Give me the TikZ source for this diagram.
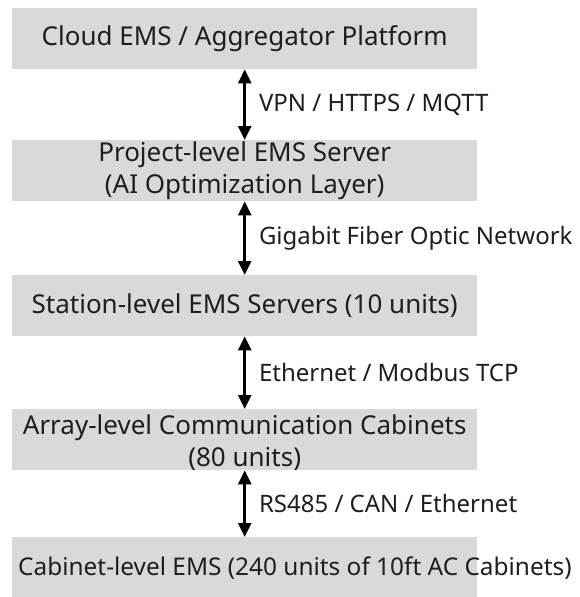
\documentclass[tikz,border=0pt]{standalone}
\usepackage{fontspec}
\setmainfont{Noto Sans}
\usepackage{xcolor}
\usepackage{tikz}
\usetikzlibrary{arrows.meta,calc,positioning}
\definecolor{levelfill}{RGB}{217,217,217}
\definecolor{levelink}{RGB}{30,30,30}
\tikzset{
  levelbox/.style={fill=levelfill,anchor=north west,inner sep=0pt,minimum width=465pt,minimum height=61pt},
  leveltxt/.style={font=\fontsize{26}{32}\selectfont,text=levelink,align=center,inner sep=0pt},
  linkarrow/.style={draw=black,line width=2.6pt,{Triangle[width=13pt,length=14pt]}-{Triangle[width=13pt,length=14pt]}},
  linktxt/.style={font=\fontsize{24}{28}\selectfont,text=levelink,anchor=west,inner sep=0pt}
}
\newcommand{\emslink}[4]{%
  \draw[linkarrow] (#1.south) -- (#2.north) node[midway,xshift=13pt,linktxt] (#3) {#4};%
}

\begin{document}
\begin{tikzpicture}[x=1pt,y=-1pt]
  \useasboundingbox (0,0) rectangle (579,597);
  \foreach \lvl/\top in {cloud/8,project/140,station/275,array/409,cabinet/537}
    \node[levelbox] (\lvl) at (12,\top) {};
  \node[leveltxt] (cloudtxt) at (cloud.center) {Cloud EMS / Aggregator Platform};
  \node[leveltxt] (projecttxt) at (project.center) {Project-level EMS Server\\(AI Optimization Layer)};
  \node[leveltxt] (stationtxt) at (station.center) {Station-level EMS Servers (10 units)};
  \node[leveltxt] (arraytxt) at ([yshift=-3pt]array.center) {Array-level Communication Cabinets\\(80 units)};
  \node[leveltxt,anchor=west,font=\fontsize{24.4}{32}\selectfont] (cabinettxt) at ([xshift=6pt]cabinet.west) {Cabinet-level EMS (240 units of 10ft AC Cabinets)};
  \emslink{cloud}{project}{vpnlink}{VPN / HTTPS / MQTT}
  \emslink{project}{station}{fiberlink}{Gigabit Fiber Optic Network}
  \emslink{station}{array}{tcplink}{Ethernet / Modbus TCP}
  \emslink{array}{cabinet}{canlink}{RS485 / CAN / Ethernet}
\end{tikzpicture}
\end{document}
